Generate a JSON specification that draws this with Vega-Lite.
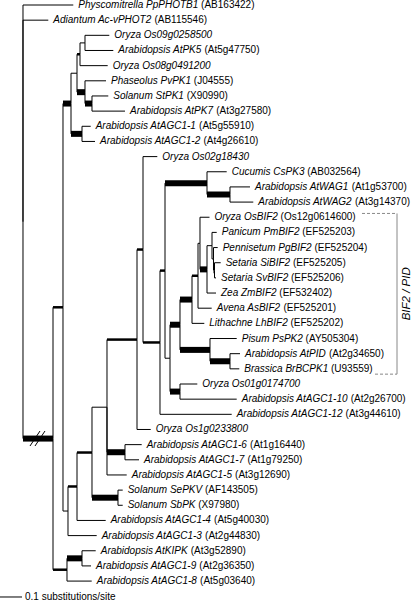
{
  "$schema": "https://vega.github.io/schema/vega-lite/v6.json",
  "width": 415,
  "height": 602,
  "padding": 0,
  "autosize": {"type": "none"},
  "background": "white",
  "config": {"view": {"stroke": null}, "text": {"font": "Liberation Sans"}},
  "datasets": {
    "tree": [
      {"id": "root", "parent": null, "x": 0, "y": 14.3},
      {"id": "Main", "parent": "root", "x": 0.1364, "y": 28.6, "support": "high"},
      {"id": "H", "parent": "Main", "x": 0.1818, "y": 19.94, "support": "mid"},
      {"id": "G", "parent": "H", "x": 0.2182, "y": 6.5, "support": "high"},
      {"id": "E", "parent": "G", "x": 0.2455, "y": 4.5, "support": "low"},
      {"id": "B", "parent": "E", "x": 0.2591, "y": 3.25, "support": "mid"},
      {"id": "A", "parent": "B", "x": 0.2818, "y": 2.5, "support": "low"},
      {"id": "C", "parent": "E", "x": 0.2818, "y": 5.75, "support": "high"},
      {"id": "D", "parent": "C", "x": 0.3136, "y": 6.5, "support": "high"},
      {"id": "F", "parent": "G", "x": 0.2682, "y": 8.5, "support": "high"},
      {"id": "I", "parent": "H", "x": 0.2045, "y": 33.38, "support": "low"},
      {"id": "J", "parent": "I", "x": 0.2455, "y": 31.76, "support": "mid"},
      {"id": "K", "parent": "J", "x": 0.3136, "y": 29.52, "support": "mid"},
      {"id": "M", "parent": "K", "x": 0.3818, "y": 26.53, "support": "low"},
      {"id": "O", "parent": "M", "x": 0.5182, "y": 22.07, "support": "mid"},
      {"id": "P", "parent": "O", "x": 0.5455, "y": 16.13, "support": "mid"},
      {"id": "Q", "parent": "P", "x": 0.6227, "y": 22.26, "support": "mid"},
      {"id": "R", "parent": "Q", "x": 0.6455, "y": 17.52, "support": "mid"},
      {"id": "Cu", "parent": "R", "x": 0.8364, "y": 11.75, "support": "high"},
      {"id": "WAG", "parent": "Cu", "x": 0.9409, "y": 12.5, "support": "high"},
      {"id": "S", "parent": "R", "x": 0.6682, "y": 23.3, "support": "low"},
      {"id": "U", "parent": "S", "x": 0.7136, "y": 21.09, "support": "high"},
      {"id": "X", "parent": "U", "x": 0.7682, "y": 19.43, "support": "high"},
      {"id": "Y", "parent": "X", "x": 0.7955, "y": 17.86, "support": "mid"},
      {"id": "Z", "parent": "Y", "x": 0.8045, "y": 15.72, "support": "low"},
      {"id": "AA", "parent": "Z", "x": 0.8364, "y": 17.44, "support": "high"},
      {"id": "BB", "parent": "AA", "x": 0.8591, "y": 15.875, "support": "low"},
      {"id": "CC", "parent": "BB", "x": 0.8659, "y": 16.75, "support": "low"},
      {"id": "DD", "parent": "CC", "x": 0.8705, "y": 17.5, "support": "high"},
      {"id": "V", "parent": "U", "x": 0.85, "y": 22.75, "support": "high"},
      {"id": "W", "parent": "V", "x": 0.9409, "y": 23.5, "support": "high"},
      {"id": "T", "parent": "S", "x": 0.7136, "y": 25.5, "support": "high"},
      {"id": "N", "parent": "M", "x": 0.4636, "y": 29.5, "support": "high"},
      {"id": "L", "parent": "K", "x": 0.4318, "y": 32.5, "support": "high"},
      {"id": "JJ", "parent": "Main", "x": 0.2, "y": 37.25, "support": "mid"},
      {"id": "KK", "parent": "JJ", "x": 0.2682, "y": 36.5, "support": "high"},
      {"id": "L0", "parent": "root", "x": 0.2286, "y": 0, "support": "low", "name": "Physcomitrella PpPHOTB1", "acc": "(AB163422)"},
      {"id": "L1", "parent": "root", "x": 0.115, "y": 1, "support": "low", "name": "Adiantum Ac-vPHOT2", "acc": "(AB115546)"},
      {"id": "L2", "parent": "A", "x": 0.3923, "y": 2, "support": "low", "name": "Oryza Os09g0258500", "acc": null},
      {"id": "L3", "parent": "A", "x": 0.4105, "y": 3, "support": "low", "name": "Arabidopsis AtPK5", "acc": "(At5g47750)"},
      {"id": "L4", "parent": "B", "x": 0.385, "y": 4, "support": "low", "name": "Oryza Os08g0491200", "acc": null},
      {"id": "L5", "parent": "C", "x": 0.3773, "y": 5, "support": "low", "name": "Phaseolus PvPK1", "acc": "(J04555)"},
      {"id": "L6", "parent": "D", "x": 0.3877, "y": 6, "support": "low", "name": "Solanum StPK1", "acc": "(X90990)"},
      {"id": "L7", "parent": "D", "x": 0.4636, "y": 7, "support": "low", "name": "Arabidopsis AtPK7", "acc": "(At3g27580)"},
      {"id": "L8", "parent": "F", "x": 0.3077, "y": 8, "support": "low", "name": "Arabidopsis AtAGC1-1", "acc": "(At5g55910)"},
      {"id": "L9", "parent": "F", "x": 0.3273, "y": 9, "support": "low", "name": "Arabidopsis AtAGC1-2", "acc": "(At4g26610)"},
      {"id": "L10", "parent": "P", "x": 0.6105, "y": 10, "support": "low", "name": "Oryza Os02g18430", "acc": null},
      {"id": "L11", "parent": "Cu", "x": 0.9259, "y": 11, "support": "low", "name": "Cucumis CsPK3", "acc": "(AB032564)"},
      {"id": "L12", "parent": "WAG", "x": 1.0318, "y": 12, "support": "low", "name": "Arabidopsis AtWAG1", "acc": "(At1g53700)"},
      {"id": "L13", "parent": "WAG", "x": 1.0468, "y": 13, "support": "low", "name": "Arabidopsis AtWAG2", "acc": "(At3g14370)"},
      {"id": "L14", "parent": "Z", "x": 0.8477, "y": 14, "support": "low", "name": "Oryza OsBIF2", "acc": "(Os12g0614600)"},
      {"id": "L15", "parent": "BB", "x": 0.8805, "y": 15, "support": "low", "name": "Panicum PmBIF2", "acc": "(EF525203)"},
      {"id": "L16", "parent": "CC", "x": 0.885, "y": 16, "support": "low", "name": "Pennisetum PgBIF2", "acc": "(EF525204)"},
      {"id": "L17", "parent": "DD", "x": 0.8986, "y": 17, "support": "low", "name": "Setaria SiBIF2", "acc": "(EF525205)"},
      {"id": "L18", "parent": "DD", "x": 0.8773, "y": 18, "support": "low", "name": "Setaria SvBIF2", "acc": "(EF525206)"},
      {"id": "L19", "parent": "AA", "x": 0.8773, "y": 19, "support": "low", "name": "Zea ZmBIF2", "acc": "(EF532402)"},
      {"id": "L20", "parent": "Y", "x": 0.8577, "y": 20, "support": "low", "name": "Avena AsBIF2", "acc": "(EF525201)"},
      {"id": "L21", "parent": "X", "x": 0.8241, "y": 21, "support": "low", "name": "Lithachne LhBIF2", "acc": "(EF525202)"},
      {"id": "L22", "parent": "V", "x": 0.9714, "y": 22, "support": "low", "name": "Pisum PsPK2", "acc": "(AY505304)"},
      {"id": "L23", "parent": "W", "x": 0.9864, "y": 23, "support": "low", "name": "Arabidopsis AtPID", "acc": "(At2g34650)"},
      {"id": "L24", "parent": "W", "x": 0.9832, "y": 24, "support": "low", "name": "Brassica BrBCPK1", "acc": "(U93559)"},
      {"id": "L25", "parent": "T", "x": 0.7923, "y": 25, "support": "low", "name": "Oryza Os01g0174700", "acc": null},
      {"id": "L26", "parent": "T", "x": 0.9714, "y": 26, "support": "low", "name": "Arabidopsis AtAGC1-10", "acc": "(At2g26700)"},
      {"id": "L27", "parent": "Q", "x": 0.9486, "y": 27, "support": "low", "name": "Arabidopsis AtAGC1-12", "acc": "(At3g44610)"},
      {"id": "L28", "parent": "O", "x": 0.5805, "y": 28, "support": "low", "name": "Oryza Os1g0233800", "acc": null},
      {"id": "L29", "parent": "N", "x": 0.5395, "y": 29, "support": "low", "name": "Arabidopsis AtAGC1-6", "acc": "(At1g16440)"},
      {"id": "L30", "parent": "N", "x": 0.5273, "y": 30, "support": "low", "name": "Arabidopsis AtAGC1-7", "acc": "(At1g79250)"},
      {"id": "L31", "parent": "M", "x": 0.4714, "y": 31, "support": "low", "name": "Arabidopsis AtAGC1-5", "acc": "(At3g12690)"},
      {"id": "L32", "parent": "L", "x": 0.4532, "y": 32, "support": "low", "name": "Solanum SePKV", "acc": "(AF143505)"},
      {"id": "L33", "parent": "L", "x": 0.4532, "y": 33, "support": "low", "name": "Solanum SbPK", "acc": "(X97980)"},
      {"id": "L34", "parent": "J", "x": 0.3759, "y": 34, "support": "low", "name": "Arabidopsis AtAGC1-4", "acc": "(At5g40030)"},
      {"id": "L35", "parent": "I", "x": 0.335, "y": 35, "support": "low", "name": "Arabidopsis AtAGC1-3", "acc": "(At2g44830)"},
      {"id": "L36", "parent": "KK", "x": 0.3305, "y": 36, "support": "low", "name": "Arabidopsis AtKIPK", "acc": "(At3g52890)"},
      {"id": "L37", "parent": "KK", "x": 0.3091, "y": 37, "support": "low", "name": "Arabidopsis AtAGC1-9", "acc": "(At2g36350)"},
      {"id": "L38", "parent": "JJ", "x": 0.3123, "y": 38, "support": "low", "name": "Arabidopsis AtAGC1-8", "acc": "(At5g03640)"}
    ],
    "bracket": [{"clade": "BIF2 / PID", "first": 13.75, "last": 24.35}],
    "scalebar": [{"label": "0.1 substitutions/site", "len": 0.1}]
  },
  "layer": [
    {
      "data": {"name": "tree"},
      "transform": [
        {"filter": "datum.parent != null"},
        {"lookup": "parent", "from": {"data": {"name": "tree"}, "key": "id", "fields": ["x", "y"]}, "as": ["px", "py"]}
      ],
      "encoding": {
        "x": {"field": "px", "type": "quantitative", "scale": {"type": "linear", "domain": [-0.104545, 1.781818], "zero": false, "nice": false}, "axis": null}
      },
      "layer": [
        {
          "mark": {"type": "rule", "color": "black", "strokeWidth": 1, "strokeCap": "butt"},
          "encoding": {
            "y": {"field": "py", "type": "quantitative", "scale": {"type": "linear", "domain": [-0.33, 39.38], "reverse": true, "zero": false, "nice": false}, "axis": null},
            "y2": {"field": "y"}
          }
        },
        {
          "transform": [{"filter": "datum.support == 'low'"}],
          "mark": {"type": "rule", "color": "black", "strokeWidth": 1, "strokeCap": "butt"},
          "encoding": {
            "x2": {"field": "x"},
            "y": {"field": "y", "type": "quantitative", "scale": {"type": "linear", "domain": [-0.33, 39.38], "reverse": true, "zero": false, "nice": false}, "axis": null}
          }
        },
        {
          "transform": [{"filter": "datum.support == 'mid'"}],
          "mark": {"type": "rule", "color": "black", "strokeWidth": 2.5, "strokeCap": "butt"},
          "encoding": {
            "x2": {"field": "x"},
            "y": {"field": "y", "type": "quantitative", "scale": {"type": "linear", "domain": [-0.33, 39.38], "reverse": true, "zero": false, "nice": false}, "axis": null}
          }
        },
        {
          "transform": [{"filter": "datum.support == 'high'"}],
          "mark": {"type": "rule", "color": "black", "strokeWidth": 6, "strokeCap": "butt"},
          "encoding": {
            "x2": {"field": "x"},
            "y": {"field": "y", "type": "quantitative", "scale": {"type": "linear", "domain": [-0.33, 39.38], "reverse": true, "zero": false, "nice": false}, "axis": null}
          }
        }
      ]
    },
    {
      "data": {"name": "tree"},
      "transform": [{"filter": "datum.name != null"}],
      "mark": {"type": "text", "align": "left", "baseline": "middle", "dx": 5, "fontSize": 10, "fontStyle": "italic", "color": "black"},
      "encoding": {
        "x": {"field": "x", "type": "quantitative", "scale": {"type": "linear", "domain": [-0.104545, 1.781818], "zero": false, "nice": false}, "axis": null},
        "y": {"field": "y", "type": "quantitative", "scale": {"type": "linear", "domain": [-0.33, 39.38], "reverse": true, "zero": false, "nice": false}, "axis": null},
        "text": {"field": "name"}
      }
    },
    {
      "data": {"name": "tree"},
      "transform": [
        {"filter": "datum.acc != null"},
        {"calculate": "datum.name + ' '", "as": "nm"},
        {"calculate": "556*length(datum.nm) - 334*(length(datum.nm)-length(replace(datum.nm, regexp('[ijl]','g'), ''))) - 278*(length(datum.nm)-length(replace(datum.nm, regexp('[ftI. ]','g'), ''))) - 223*(length(datum.nm)-length(replace(datum.nm, regexp('[r()-]','g'), ''))) - 56*(length(datum.nm)-length(replace(datum.nm, regexp('[ckvsxyzJ]','g'), ''))) + 55*(length(datum.nm)-length(replace(datum.nm, regexp('[FTZ]','g'), ''))) + 111*(length(datum.nm)-length(replace(datum.nm, regexp('[ABEKPSVXY]','g'), ''))) + 166*(length(datum.nm)-length(replace(datum.nm, regexp('[CDHNRUw]','g'), ''))) + 222*(length(datum.nm)-length(replace(datum.nm, regexp('[GOQ]','g'), ''))) + 277*(length(datum.nm)-length(replace(datum.nm, regexp('[mM]','g'), ''))) + 388*(length(datum.nm)-length(replace(datum.nm, regexp('[W]','g'), '')))", "as": "w"},
        {"calculate": "datum.x + (5 + datum.w * 10 / 1000) / 220", "as": "ax"}
      ],
      "mark": {"type": "text", "align": "left", "baseline": "middle", "fontSize": 10, "color": "black"},
      "encoding": {
        "x": {"field": "ax", "type": "quantitative", "scale": {"type": "linear", "domain": [-0.104545, 1.781818], "zero": false, "nice": false}, "axis": null},
        "y": {"field": "y", "type": "quantitative", "scale": {"type": "linear", "domain": [-0.33, 39.38], "reverse": true, "zero": false, "nice": false}, "axis": null},
        "text": {"field": "acc"}
      }
    },
    {
      "data": {"name": "bracket"},
      "transform": [{"calculate": "(datum.first + datum.last) / 2", "as": "mid"}],
      "layer": [
        {
          "mark": {"type": "rule", "color": "#888888", "strokeWidth": 1},
          "encoding": {
            "x": {"datum": 1.7, "type": "quantitative", "scale": {"type": "linear", "domain": [-0.104545, 1.781818], "zero": false, "nice": false}, "axis": null},
            "y": {"field": "first", "type": "quantitative", "scale": {"type": "linear", "domain": [-0.33, 39.38], "reverse": true, "zero": false, "nice": false}, "axis": null},
            "y2": {"field": "last"}
          }
        },
        {
          "mark": {"type": "rule", "color": "#888888", "strokeWidth": 1, "strokeDash": [3, 2]},
          "encoding": {
            "x": {"datum": 1.5409, "type": "quantitative", "scale": {"type": "linear", "domain": [-0.104545, 1.781818], "zero": false, "nice": false}, "axis": null},
            "x2": {"datum": 1.7},
            "y": {"field": "first", "type": "quantitative", "scale": {"type": "linear", "domain": [-0.33, 39.38], "reverse": true, "zero": false, "nice": false}, "axis": null}
          }
        },
        {
          "mark": {"type": "rule", "color": "#888888", "strokeWidth": 1, "strokeDash": [3, 2]},
          "encoding": {
            "x": {"datum": 1.6, "type": "quantitative", "scale": {"type": "linear", "domain": [-0.104545, 1.781818], "zero": false, "nice": false}, "axis": null},
            "x2": {"datum": 1.7},
            "y": {"field": "last", "type": "quantitative", "scale": {"type": "linear", "domain": [-0.33, 39.38], "reverse": true, "zero": false, "nice": false}, "axis": null}
          }
        },
        {
          "mark": {"type": "text", "angle": 270, "align": "center", "baseline": "middle", "fontSize": 11.5, "fontStyle": "italic", "color": "black"},
          "encoding": {
            "x": {"datum": 1.7455, "type": "quantitative", "scale": {"type": "linear", "domain": [-0.104545, 1.781818], "zero": false, "nice": false}, "axis": null},
            "y": {"field": "mid", "type": "quantitative", "scale": {"type": "linear", "domain": [-0.33, 39.38], "reverse": true, "zero": false, "nice": false}, "axis": null},
            "text": {"field": "clade"}
          }
        }
      ]
    },
    {
      "data": {"name": "scalebar"},
      "layer": [
        {
          "mark": {"type": "rule", "color": "black", "strokeWidth": 1},
          "encoding": {
            "x": {"datum": -0.104545, "type": "quantitative", "scale": {"type": "linear", "domain": [-0.104545, 1.781818], "zero": false, "nice": false}, "axis": null},
            "x2": {"datum": -0.004545},
            "y": {"datum": 39.05, "type": "quantitative", "scale": {"type": "linear", "domain": [-0.33, 39.38], "reverse": true, "zero": false, "nice": false}, "axis": null}
          }
        },
        {
          "mark": {"type": "text", "align": "left", "baseline": "middle", "fontSize": 10, "color": "black"},
          "encoding": {
            "x": {"datum": 0.0091, "type": "quantitative", "scale": {"type": "linear", "domain": [-0.104545, 1.781818], "zero": false, "nice": false}, "axis": null},
            "y": {"datum": 39.05, "type": "quantitative", "scale": {"type": "linear", "domain": [-0.33, 39.38], "reverse": true, "zero": false, "nice": false}, "axis": null},
            "text": {"field": "label"}
          }
        }
      ]
    },
    {
      "data": {"values": [{"mark": "break"}]},
      "layer": [
        {
          "mark": {"type": "rule", "color": "black", "strokeWidth": 1},
          "encoding": {
            "x": {"datum": 0.0318, "type": "quantitative", "scale": {"type": "linear", "domain": [-0.104545, 1.781818], "zero": false, "nice": false}, "axis": null},
            "x2": {"datum": 0.0773},
            "y": {"datum": 29.09, "type": "quantitative", "scale": {"type": "linear", "domain": [-0.33, 39.38], "reverse": true, "zero": false, "nice": false}, "axis": null},
            "y2": {"datum": 28.1}
          }
        },
        {
          "mark": {"type": "rule", "color": "black", "strokeWidth": 1},
          "encoding": {
            "x": {"datum": 0.0545, "type": "quantitative", "scale": {"type": "linear", "domain": [-0.104545, 1.781818], "zero": false, "nice": false}, "axis": null},
            "x2": {"datum": 0.1},
            "y": {"datum": 29.09, "type": "quantitative", "scale": {"type": "linear", "domain": [-0.33, 39.38], "reverse": true, "zero": false, "nice": false}, "axis": null},
            "y2": {"datum": 28.1}
          }
        }
      ]
    }
  ]
}
